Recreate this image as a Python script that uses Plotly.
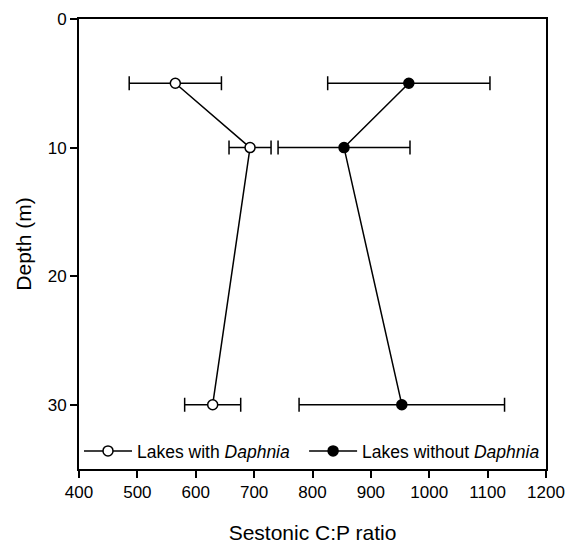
import plotly.graph_objects as go

depth = [5, 10, 30]
with_daphnia = [565, 693, 629]
with_err = [79, 36, 48]
without_daphnia = [965, 854, 953]
without_err = [139, 113, 176]

font_family = "Liberation Sans, Arial, sans-serif"

fig = go.Figure()
fig.add_trace(go.Scatter(
    x=with_daphnia, y=depth, mode="lines+markers",
    name="Lakes with <i>Daphnia</i>", legend="legend",
    line=dict(color="black", width=1.5),
    marker=dict(symbol="circle", size=10, color="white", line=dict(color="black", width=1.5)),
    error_x=dict(type="data", array=with_err, visible=True, color="black", thickness=1.5, width=7),
))
fig.add_trace(go.Scatter(
    x=without_daphnia, y=depth, mode="lines+markers",
    name="Lakes without <i>Daphnia</i>", legend="legend2",
    line=dict(color="black", width=1.5),
    marker=dict(symbol="circle", size=10, color="black", line=dict(color="black", width=1.5)),
    error_x=dict(type="data", array=without_err, visible=True, color="black", thickness=1.5, width=7),
))

legend_style = dict(orientation="h", yanchor="bottom", xanchor="left", y=0.0,
                    bgcolor="rgba(0,0,0,0)", font=dict(size=17.5), itemwidth=48)

fig.update_layout(
    width=566, height=544,
    margin=dict(l=79, r=20, t=19, b=75, autoexpand=False),
    plot_bgcolor="white", paper_bgcolor="white",
    font=dict(family=font_family, size=17, color="black"),
    showlegend=True,
    legend=dict(x=0.0, **legend_style),
    legend2=dict(x=0.482, **legend_style),
)
fig.update_xaxes(
    range=[400, 1200], tickvals=[400, 500, 600, 700, 800, 900, 1000, 1100, 1200],
    showline=True, linecolor="black", linewidth=2, mirror=True,
    ticks="outside", ticklen=7, tickwidth=1.5, tickcolor="black",
    showgrid=False, zeroline=False, automargin=False,
    tickfont=dict(size=17), ticklabeloverflow="allow",
    title=dict(text="Sestonic C:P ratio", font=dict(size=21), standoff=27),
)
fig.update_yaxes(
    range=[35, 0], tickvals=[0, 10, 20, 30],
    showline=True, linecolor="black", linewidth=2, mirror=True,
    ticks="outside", ticklen=7, tickwidth=1.5, tickcolor="black",
    showgrid=False, zeroline=False, automargin=False,
    tickfont=dict(size=17),
    title=dict(text="Depth (m)", font=dict(size=21), standoff=10),
)

fig.write_html("out.html", config={"displayModeBar": False},
               post_script="document.body.style.margin='0';document.body.style.overflow='hidden';")
